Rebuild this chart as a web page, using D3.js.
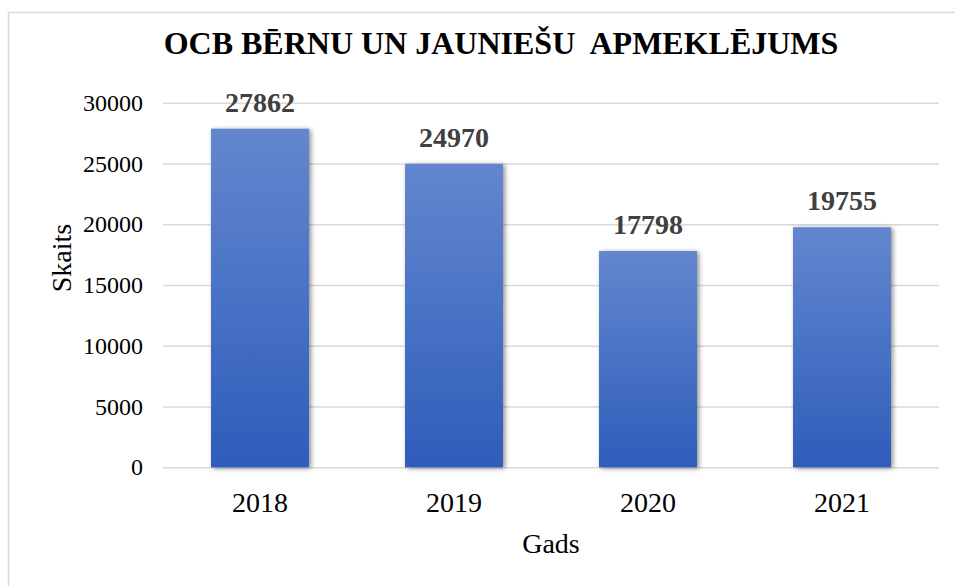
<!DOCTYPE html>
<html>
<head>
<meta charset="utf-8">
<script src="https://cdn.jsdelivr.net/npm/d3@7"></script>
<style>
  html, body { margin: 0; padding: 0; background: #fff; }
  svg { display: block; font-family: "Liberation Serif", "Times New Roman", serif; }
</style>
</head>
<body>
<div class="chart"></div>
<script>
(() => {
  const years = ["2018", "2019", "2020", "2021"];
  const counts = [27862, 24970, 17798, 19755];
  const yTicks = [0, 5000, 10000, 15000, 20000, 25000, 30000];

  const titleText = "OCB BĒRNU UN JAUNIEŠU\u00a0 APMEKLĒJUMS";
  const xLabelText = "Gads";
  const yLabelText = "Skaits";

  const width = 955;
  const height = 586;
  const margin = { top: 102.7, right: 16, bottom: 118.7, left: 163 };
  const innerWidth = width - margin.left - margin.right;
  const innerHeight = height - margin.top - margin.bottom;

  const data = years.map((y, i) => ({ year: y, value: counts[i] }));

  const svg = d3
    .select(".chart")
    .append("svg")
    .attr("width", width)
    .attr("height", height);

  // outer chart border
  svg.append("rect")
    .attr("x", 8.5)
    .attr("y", 12.5)
    .attr("width", width)
    .attr("height", height)
    .attr("fill", "none")
    .attr("stroke", "#d9d9d9")
    .attr("stroke-width", 1.5);

  const defs = svg.append("defs");
  const grad = defs.append("linearGradient")
    .attr("id", "barGrad")
    .attr("x1", 0).attr("y1", 0)
    .attr("x2", 0).attr("y2", 1);
  grad.append("stop").attr("offset", "0%").attr("stop-color", "#6387cf");
  grad.append("stop").attr("offset", "100%").attr("stop-color", "#2e5dba");

  const shadow = defs.append("filter")
    .attr("id", "barShadow")
    .attr("x", "-20%").attr("y", "-20%")
    .attr("width", "140%").attr("height", "140%");
  shadow.append("feGaussianBlur")
    .attr("in", "SourceAlpha")
    .attr("stdDeviation", 2.5)
    .attr("result", "blur");
  shadow.append("feOffset")
    .attr("in", "blur").attr("dx", 1.5).attr("dy", 1)
    .attr("result", "off");
  shadow.append("feComponentTransfer")
    .attr("in", "off").attr("result", "soft")
    .append("feFuncA").attr("type", "linear").attr("slope", 0.45);
  const merge = shadow.append("feMerge");
  merge.append("feMergeNode").attr("in", "soft");
  merge.append("feMergeNode").attr("in", "SourceGraphic");

  const g = svg.append("g")
    .attr("transform", `translate(${margin.left},${margin.top})`);

  const xScale = d3.scaleBand()
    .domain(years)
    .range([0, innerWidth])
    .paddingInner(0.495)
    .paddingOuter(0.2475);

  const yScale = d3.scaleLinear()
    .domain([0, 30000])
    .range([innerHeight, 0]);

  // gridlines + y tick labels
  const yAxis = d3.axisLeft(yScale)
    .tickValues(yTicks)
    .tickFormat(d3.format("d"))
    .tickSize(-innerWidth)
    .tickPadding(20);

  const yAxisG = g.append("g").call(yAxis);
  yAxisG.select(".domain").remove();
  yAxisG.selectAll(".tick line")
    .attr("stroke", "#d9d9d9")
    .attr("stroke-width", 1.5);
  yAxisG.selectAll(".tick text")
    .attr("font-family", "Liberation Serif, serif")
    .attr("font-size", 24)
    .attr("fill", "#000");

  // bars
  g.selectAll("rect.bar").data(data)
    .enter().append("rect")
      .attr("class", "bar")
      .attr("x", d => xScale(d.year))
      .attr("y", d => yScale(d.value))
      .attr("width", xScale.bandwidth())
      .attr("height", d => innerHeight - yScale(d.value))
      .attr("fill", "url(#barGrad)")
      .attr("filter", "url(#barShadow)");

  // value labels
  g.selectAll("text.value").data(data)
    .enter().append("text")
      .attr("class", "value")
      .attr("x", d => xScale(d.year) + xScale.bandwidth() / 2)
      .attr("y", d => yScale(d.value) - 17)
      .attr("text-anchor", "middle")
      .attr("font-size", 28)
      .attr("font-weight", "bold")
      .attr("fill", "#404040")
      .text(d => d.value);

  // x axis labels
  const xAxisG = g.append("g")
    .attr("transform", `translate(0,${innerHeight})`)
    .call(d3.axisBottom(xScale).tickSize(0).tickPadding(0));
  xAxisG.select(".domain").remove();
  xAxisG.selectAll(".tick text")
    .attr("font-family", "Liberation Serif, serif")
    .attr("font-size", 28)
    .attr("fill", "#000")
    .attr("dy", null)
    .attr("y", 45);

  // axis titles
  g.append("text")
    .attr("x", innerWidth / 2)
    .attr("y", innerHeight + 86)
    .attr("text-anchor", "middle")
    .attr("font-size", 28)
    .attr("fill", "#000")
    .text(xLabelText);

  svg.append("text")
    .attr("transform", `translate(71,258) rotate(-90)`)
    .attr("text-anchor", "middle")
    .attr("font-size", 28)
    .attr("fill", "#000")
    .text(yLabelText);

  // title
  svg.append("text")
    .attr("x", 501)
    .attr("y", 54)
    .attr("text-anchor", "middle")
    .attr("font-size", 32)
    .attr("font-weight", "bold")
    .attr("fill", "#000")
    .text(titleText);
})();
</script>
</body>
</html>
